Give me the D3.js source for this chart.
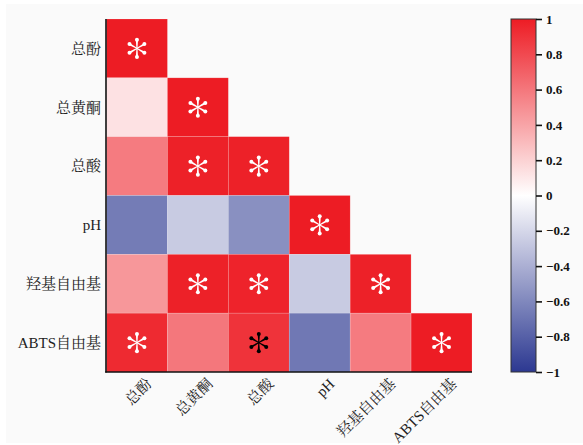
<!DOCTYPE html>
<html><head><meta charset="utf-8">
<script src="https://cdn.jsdelivr.net/npm/d3@7"></script>
<style>body{margin:0;background:#fff}svg{display:block}</style>
</head><body>
<svg id="c" width="583" height="445"></svg>
<script>
const categories = ["总酚","总黄酮","总酸","pH","羟基自由基","ABTS自由基"];
// lower-triangle correlation values, row by row (row i has i+1 values)
const corrRows = [
  [1],
  [0.13, 1],
  [0.58, 0.98, 0.98],
  [-0.66, -0.26, -0.56, 1],
  [0.46, 0.98, 0.97, -0.26, 0.98],
  [0.94, 0.6, 0.9, -0.68, 0.58, 1]
];
// significance markers: 1 = white star, 2 = black star, 0 = none
const starRows = [
  [1],
  [0, 1],
  [0, 1, 1],
  [0, 0, 0, 1],
  [0, 1, 1, 0, 1],
  [1, 0, 2, 0, 0, 1]
];
const colorTicks = [1,0.8,0.6,0.4,0.2,0,-0.2,-0.4,-0.6,-0.8,-1];

const svg = d3.select("#c");
svg.append("rect").attr("x",6).attr("y",4).attr("width",577).attr("height",439).attr("fill","#fafafa");

const x = d3.scaleBand().domain(categories).range([106.5,472]);
const y = d3.scaleBand().domain(categories).range([19,372]);
const color = d3.scaleLinear().domain([-1,0,1]).range(["#2c3891","#ffffff","#ed1c24"]);

const cells = [];
corrRows.forEach((row,i)=>row.forEach((v,j)=>cells.push({r:categories[i],c:categories[j],v,s:starRows[i][j]})));

const g = svg.append("g");
g.selectAll("rect.cell").data(cells).join("rect").attr("class","cell")
  .attr("x",d=>x(d.c)).attr("y",d=>y(d.r))
  .attr("width",x.bandwidth()).attr("height",y.bandwidth())
  .attr("fill",d=>color(d.v)).attr("stroke","rgba(255,255,255,0.25)").attr("stroke-width",0.6);

// teardrop-spoked asterisk: each arm is its own tapered path with a round end
const ARM = 8.6, BULB = 2.0;
function armPath(k){
  const p = d3.path();
  const a = -Math.PI/2 + k*Math.PI/3;
  const ux=Math.cos(a), uy=Math.sin(a), px=-uy, py=ux;
  const w0=0.5, w1=1.1;
  p.moveTo(px*w0, py*w0);
  p.lineTo(ux*ARM+px*w1, uy*ARM+py*w1);
  p.lineTo(ux*ARM-px*w1, uy*ARM-py*w1);
  p.lineTo(-px*w0, -py*w0);
  p.closePath();
  return p.toString();
}
const stars = g.selectAll("g.star").data(cells.filter(d=>d.s>0)).join("g").attr("class","star")
  .attr("transform",d=>`translate(${x(d.c)+x.bandwidth()/2},${y(d.r)+y.bandwidth()/2})`)
  .attr("fill",d=>d.s===2?"#000":"#fff");
stars.selectAll("path").data(d3.range(6)).join("path").attr("d",k=>armPath(k));
stars.selectAll("circle").data(d3.range(6)).join("circle")
  .attr("cx",k=>ARM*Math.cos(-Math.PI/2+k*Math.PI/3))
  .attr("cy",k=>ARM*Math.sin(-Math.PI/2+k*Math.PI/3))
  .attr("r",BULB);
stars.append("circle").attr("r",1.0);

// axes lines
svg.append("line").attr("x1",106).attr("x2",106).attr("y1",19).attr("y2",372.5).attr("stroke","#111").attr("stroke-width",1.6);
svg.append("line").attr("x1",105.2).attr("x2",472).attr("y1",372).attr("y2",372).attr("stroke","#111").attr("stroke-width",1.6);

const font = "'Liberation Serif','Noto Serif CJK SC','Noto Sans CJK SC',serif";
svg.append("g").selectAll("text").data(categories).join("text")
  .attr("x",101).attr("y",d=>y(d)+y.bandwidth()/2).attr("dy","0.35em")
  .attr("text-anchor","end").attr("font-family",font).attr("font-size",15).attr("fill","#222")
  .text(d=>d);
svg.append("g").selectAll("text").data(categories).join("text")
  .attr("transform",d=>`translate(${x(d)+x.bandwidth()/2+12},${381}) rotate(-45)`)
  .attr("dy","0.35em")
  .attr("text-anchor","end").attr("font-family",font).attr("font-size",15).attr("fill","#222")
  .text(d=>d);

// colorbar
const cb = d3.scaleLinear().domain([1,-1]).range([19,372]);
const defs = svg.append("defs");
const grad = defs.append("linearGradient").attr("id","gr").attr("x1",0).attr("x2",0).attr("y1",0).attr("y2",1);
d3.range(0,1.0001,0.05).forEach(t=>grad.append("stop").attr("offset",t).attr("stop-color",color(1-2*t)));
svg.append("rect").attr("x",511).attr("y",19).attr("width",25).attr("height",353)
  .attr("fill","url(#gr)").attr("stroke","#333").attr("stroke-width",1);
const ax = svg.append("g").attr("transform","translate(536,0)")
  .call(d3.axisRight(cb).tickValues(colorTicks).tickSize(6).tickPadding(4).tickFormat(d3.format("")));
ax.select(".domain").remove();
ax.selectAll("line").attr("stroke","#111").attr("stroke-width",1.6);
ax.selectAll("text").attr("font-family","'Liberation Serif',serif").attr("font-weight","bold").attr("font-size",13).attr("fill","#111");
</script>
</body></html>
